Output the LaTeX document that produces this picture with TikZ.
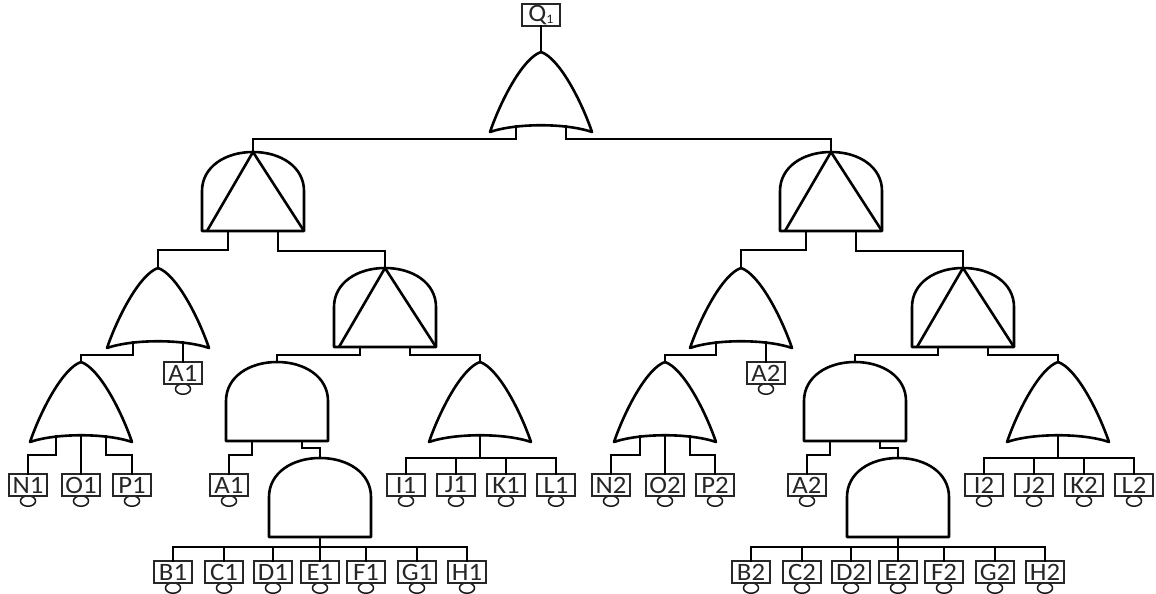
\documentclass[tikz,border=0pt]{standalone}
\usepackage{fontspec}
\setmainfont{Carlito}
\usetikzlibrary{shapes.geometric}
\tikzset{
  wire/.style={line width=2.5pt,line cap=rect,line join=miter,draw=black},
  gateline/.style={line width=2.6pt,line join=round,draw=black,fill=white},
  gatebox/.style={inner sep=0pt,minimum width=102pt,minimum height=80pt},
  evbox/.style={draw=black!85,line width=1.4pt,fill=white,inner sep=0pt,minimum width=38pt,minimum height=22pt,text=black!85,font=\fontsize{25}{25}\selectfont},
  evcirc/.style={draw=black!90,ellipse,line width=1.5pt,inner sep=0pt,minimum width=15pt,minimum height=10.5pt,fill=white},
}
% gates: name, cx, top
\newcommand{\gatecoords}[3]{%
  \node[gatebox] (#1) at (#2,#3+40) {};
  \coordinate (#1-t) at (#2,#3);
  \coordinate (#1-l) at (#2-25,#3+74);
  \coordinate (#1-c) at (#2,#3+73);
  \coordinate (#1-r) at (#2+25,#3+74);
}
\newcommand{\orshape}[3]{%
  \gatecoords{#1}{#2}{#3}
  \draw[gateline] (#2,#3) .. controls (#2+18,#3+6) and (#2+40,#3+48) .. (#2+51,#3+80)
    .. controls (#2+25,#3+71) and (#2-25,#3+71) .. (#2-51,#3+80)
    .. controls (#2-40,#3+48) and (#2-18,#3+6) .. cycle;
}
\newcommand{\andshape}[3]{%
  \gatecoords{#1}{#2}{#3}
  \coordinate (#1-l) at (#2-25,#3+79);
  \coordinate (#1-c) at (#2,#3+79);
  \coordinate (#1-r) at (#2+25,#3+79);
  \draw[gateline] (#2-51,#3+79) -- (#2-51,#3+39) .. controls (#2-51,#3+15) and (#2-28,#3) .. (#2,#3)
    .. controls (#2+28,#3) and (#2+51,#3+15) .. (#2+51,#3+39) -- (#2+51,#3+79) -- cycle;
}
\newcommand{\inhshape}[3]{%
  \andshape{#1}{#2}{#3}
  \draw[gateline,fill=none] (#2-46,#3+79) -- (#2,#3) -- (#2+51,#3+79);
}
% event: name, x, top y, label
\newcommand{\ev}[4]{%
  \node[evcirc] (#1c) at (#2,#3+27) {};
  \node[evbox] (#1) at (#2,#3+11) {\scalebox{1.07}[1]{#4}};
}
% stepped connector: from a, down to bus y, across, down to b
\newcommand{\elbow}[3]{\draw[wire] (#1) -- (#1 |- 0,#2) -- (#3 |- 0,#2) -- (#3);}
\begin{document}
\begin{tikzpicture}[x=1pt,y=-1pt]
\useasboundingbox (0,0) rectangle (1156,594);
\fill[white] (0,0) rectangle (1156,594);

% top
\node[evbox] (q) at (541,15) {\scalebox{1.07}[1]{Q\raisebox{-2.5pt}{\fontsize{13}{13}\selectfont 1}}};
\orshape{gq}{541}{52}
\draw[wire] (q) -- (gq-t);

% ---------- left ----------
\inhshape{a}{253}{152}
\orshape{b}{158}{268}
\inhshape{c}{385}{268}
\orshape{d}{81}{362}
\andshape{e}{277}{362}
\orshape{f}{480}{362}
\andshape{g}{320}{458}

% ---------- right ----------
\inhshape{ra}{831}{152}
\orshape{rb}{741}{268}
\inhshape{rc}{963}{268}
\orshape{rd}{665}{362}
\andshape{re}{855}{362}
\orshape{rf}{1058}{362}
\andshape{rg}{898}{458}

% connectors
\elbow{gq-l}{139}{a-t}
\elbow{gq-r}{139}{ra-t}

\ev{A1u}{183}{362}{A1}
\ev{N1}{28}{474}{N1}
\ev{O1}{81}{474}{O1}
\ev{P1}{132}{474}{P1}
\ev{A1l}{229}{474}{A1}
\ev{I1}{406}{474}{I1}
\ev{J1}{456}{474}{J1}
\ev{K1}{506}{474}{K1}
\ev{L1}{556}{474}{L1}
\ev{B1}{173}{561}{B1}
\ev{C1}{224}{561}{C1}
\ev{D1}{273}{561}{D1}
\ev{E1}{320}{561}{E1}
\ev{F1}{366}{561}{F1}
\ev{G1}{417}{561}{G1}
\ev{H1}{467}{561}{H1}
\ev{A2u}{766}{362}{A2}
\ev{N2}{611}{474}{N2}
\ev{O2}{665}{474}{O2}
\ev{P2}{715}{474}{P2}
\ev{A2l}{807}{474}{A2}
\ev{I2}{984}{474}{I2}
\ev{J2}{1034}{474}{J2}
\ev{K2}{1084}{474}{K2}
\ev{L2}{1134}{474}{L2}
\ev{B2}{751}{561}{B2}
\ev{C2}{802}{561}{C2}
\ev{D2}{851}{561}{D2}
\ev{E2}{898}{561}{E2}
\ev{F2}{944}{561}{F2}
\ev{G2}{995}{561}{G2}
\ev{H2}{1045}{561}{H2}

\elbow{a-l}{250}{b-t}
\elbow{a-r}{251}{c-t}
\elbow{b-l}{355}{d-t}
\draw[wire] (b-r) -- (A1u);
\elbow{c-l}{355}{e-t}
\elbow{c-r}{355}{f-t}
\elbow{d-l}{455}{N1}
\draw[wire] (d-c) -- (O1);
\elbow{d-r}{455}{P1}
\elbow{e-l}{455}{A1l}
\elbow{e-r}{448}{g-t}
\foreach \n in {I1,J1,K1,L1}{\elbow{f-c}{458}{\n}}
\foreach \n in {B1,C1,D1,E1,F1,G1,H1}{\elbow{g-c}{547}{\n}}

\elbow{ra-l}{250}{rb-t}
\elbow{ra-r}{251}{rc-t}
\elbow{rb-l}{355}{rd-t}
\draw[wire] (rb-r) -- (A2u);
\elbow{rc-l}{355}{re-t}
\elbow{rc-r}{355}{rf-t}
\elbow{rd-l}{455}{N2}
\draw[wire] (rd-c) -- (O2);
\elbow{rd-r}{455}{P2}
\elbow{re-l}{455}{A2l}
\elbow{re-r}{448}{rg-t}
\foreach \n in {I2,J2,K2,L2}{\elbow{rf-c}{458}{\n}}
\foreach \n in {B2,C2,D2,E2,F2,G2,H2}{\elbow{rg-c}{547}{\n}}
\end{tikzpicture}
\end{document}
